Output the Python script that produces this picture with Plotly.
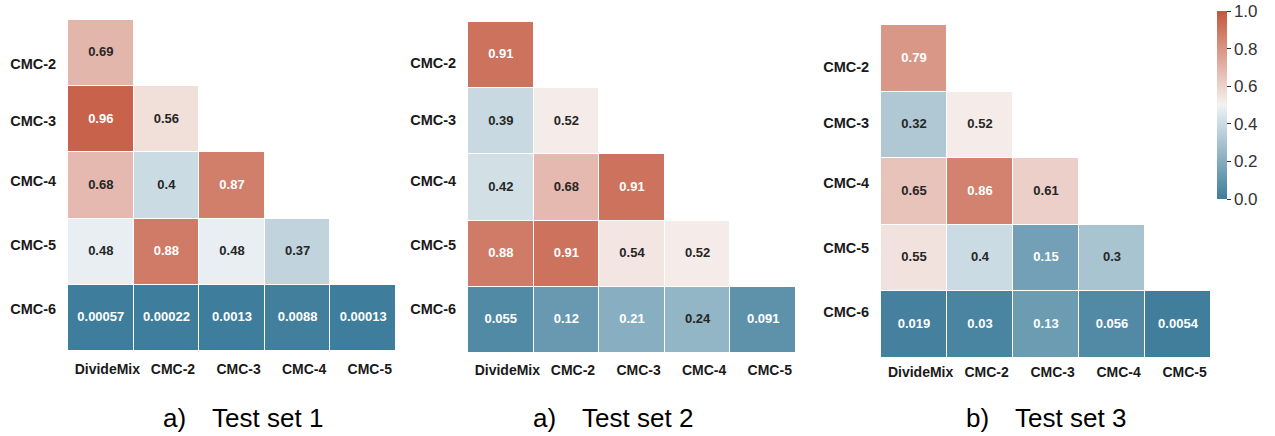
import plotly.graph_objects as go

# Lower-triangular p-value matrices (rows: CMC-2..CMC-6, columns: DivideMix..CMC-5)
col_labels = ["DivideMix", "CMC-2", "CMC-3", "CMC-4", "CMC-5"]
row_labels = ["CMC-2", "CMC-3", "CMC-4", "CMC-5", "CMC-6"]

test_set_1 = [
    [0.69],
    [0.96, 0.56],
    [0.68, 0.4, 0.87],
    [0.48, 0.88, 0.48, 0.37],
    [0.00057, 0.00022, 0.0013, 0.0088, 0.00013],
]
test_set_2 = [
    [0.91],
    [0.39, 0.52],
    [0.42, 0.68, 0.91],
    [0.88, 0.91, 0.54, 0.52],
    [0.055, 0.12, 0.21, 0.24, 0.091],
]
test_set_3 = [
    [0.79],
    [0.32, 0.52],
    [0.65, 0.86, 0.61],
    [0.55, 0.4, 0.15, 0.3],
    [0.019, 0.03, 0.13, 0.056, 0.0054],
]
titles = ["a)\u2003Test set 1", "a)\u2003Test set 2", "b)\u2003Test set 3"]
cbar_ticks = [0.0, 0.2, 0.4, 0.6, 0.8, 1.0]

# Diverging blue -> light -> red palette
STOPS = [
    (0.0, (62, 125, 155)),
    (127 / 258, (236, 241, 243)),
    (0.5, (242, 242, 242)),
    (131 / 258, (246, 239, 237)),
    (1.0, (196, 86, 60)),
]


def cmap(v):
    for (p0, c0), (p1, c1) in zip(STOPS[:-1], STOPS[1:]):
        if v <= p1:
            t = (v - p0) / (p1 - p0) if p1 > p0 else 0
            return tuple(a + (b - a) * t for a, b in zip(c0, c1))
    return STOPS[-1][1]


def luminance(rgb):
    lin = []
    for c in rgb:
        c = c / 255
        lin.append(c / 12.92 if c <= 0.03928 else ((c + 0.055) / 1.055) ** 2.4)
    return 0.2126 * lin[0] + 0.7152 * lin[1] + 0.0722 * lin[2]


colorscale = [[p, "rgb(%d,%d,%d)" % c] for p, c in STOPS]

# panel geometry in pixels: cell block extents, x-label gap, y-label positions, title centre
panels = [
    dict(x=(68, 396), y=(20, 351), xgap=5, ypos=[0.16, 1.02, 1.93, 2.9, 3.87], tx=243),
    dict(x=(468, 796), y=(22, 353), xgap=4, ypos=[0.12, 0.98, 1.9, 2.86, 3.84], tx=613),
    dict(x=(881, 1211), y=(25, 358), xgap=1, ypos=[0.13, 0.97, 1.87, 2.85, 3.81], tx=1046),
]
W, H = 1275, 436
FONT = "Liberation Sans, Arial, sans-serif"

fig = go.Figure()
layout = {}
for k, (data, pan) in enumerate(zip([test_set_1, test_set_2, test_set_3], panels)):
    n = len(col_labels)
    z = [[row[c] if c < len(row) else None for c in range(n)] for row in data]
    xs, ys, txt, tcol = [], [], [], []
    for r, row in enumerate(data):
        for c, v in enumerate(row):
            xs.append(c)
            ys.append(r)
            txt.append(f"{v:.2g}")
            tcol.append("#ffffff" if luminance(cmap(v)) <= 0.408 else "#262626")
    ax = "" if k == 0 else str(k + 1)
    fig.add_trace(go.Heatmap(
        z=z, x=list(range(n)), y=list(range(len(row_labels))),
        coloraxis="coloraxis", xgap=1, ygap=1, hoverinfo="skip",
        xaxis="x" + ax, yaxis="y" + ax,
    ))
    fig.add_trace(go.Scatter(
        x=xs, y=ys, text=txt, mode="text", showlegend=False,
        textfont=dict(family=FONT, size=13, color=tcol, weight="bold"),
        xaxis="x" + ax, yaxis="y" + ax, hoverinfo="skip",
    ))
    x0, x1 = pan["x"]
    y0, y1 = pan["y"]
    layout["xaxis" + ax] = dict(
        domain=[x0 / W, x1 / W], range=[-0.5, n - 0.5], anchor="y" + ax,
        tickvals=[i + 0.1 for i in range(n)], ticktext=col_labels,
        ticks="outside", ticklen=pan["xgap"], tickcolor="rgba(0,0,0,0)",
        showgrid=False, zeroline=False, showline=False,
        tickfont=dict(family=FONT, size=14, color="#1a1a1a", weight="bold"),
    )
    layout["yaxis" + ax] = dict(
        domain=[1 - y1 / H, 1 - y0 / H], range=[len(row_labels) - 0.5, -0.5],
        anchor="x" + ax, tickvals=pan["ypos"], ticktext=row_labels,
        ticks="outside", ticklen=8, tickcolor="rgba(0,0,0,0)",
        showgrid=False, zeroline=False, showline=False,
        tickfont=dict(family=FONT, size=14.5, color="#1a1a1a", weight="bold"),
    )
    fig.add_annotation(
        text=titles[k], x=pan["tx"] / W, y=1 - 418 / H, xref="paper", yref="paper",
        showarrow=False, xanchor="center", yanchor="middle",
        font=dict(family=FONT, size=26, color="#000000"),
    )

fig.update_layout(
    width=W, height=H, margin=dict(l=0, r=0, t=0, b=0),
    paper_bgcolor="white", plot_bgcolor="white", showlegend=False,
    coloraxis=dict(
        colorscale=colorscale, cmin=0, cmax=1,
        colorbar=dict(
            x=1217 / W, xanchor="left", y=1 - 11 / H, yanchor="top",
            len=188, lenmode="pixels", thickness=10, thicknessmode="pixels",
            xpad=0, ypad=0, outlinewidth=0,
            tickvals=cbar_ticks, ticktext=[f"{t:.1f}" for t in cbar_ticks],
            ticks="outside", ticklen=4, tickcolor="#333333", tickwidth=1,
            tickfont=dict(family=FONT, size=17, color="#333333"),
        ),
    ),
    **layout,
)

fig.write_html("out.html")
